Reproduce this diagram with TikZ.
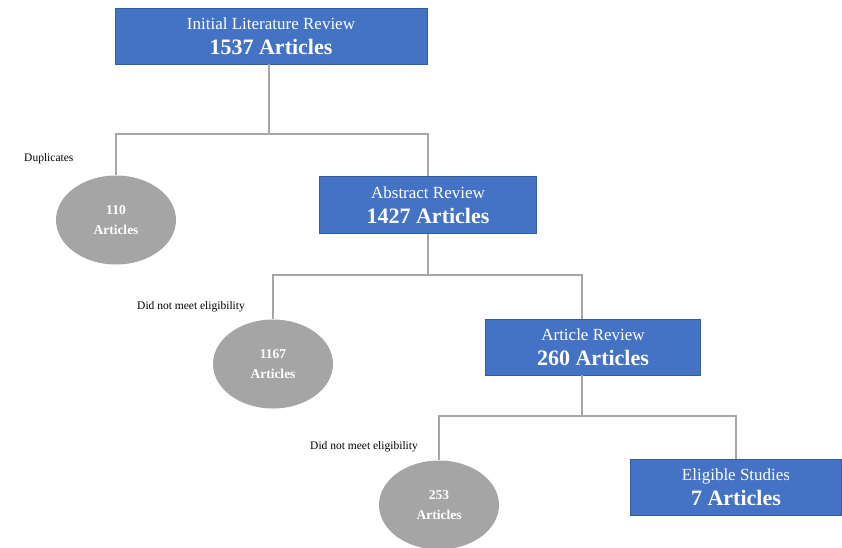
\documentclass[tikz,border=0pt]{standalone}
\usepackage{fontspec}
\setmainfont{Liberation Serif}
\usetikzlibrary{shapes.geometric}
\definecolor{boxblue}{HTML}{4472C4}
\definecolor{ovalgray}{HTML}{A5A5A5}
\definecolor{linegray}{HTML}{A6A6A6}

\begin{document}
\begin{tikzpicture}[x=1pt,y=-1pt,
    stagebox/.style={rectangle, fill=boxblue, draw=boxblue!80!black, line width=0.4pt, text=white, align=center, inner sep=0pt, font=\fontsize{17}{25}\selectfont},
    dropoval/.style={ellipse, fill=ovalgray, text=white, align=center, inner sep=0pt, minimum width=120pt, minimum height=89pt, font=\bfseries\fontsize{13.5}{20}\selectfont},
    conn/.style={draw=linegray, line width=1.2pt},
    note/.style={font=\fontsize{11.5}{13}\selectfont, anchor=base west, inner sep=0pt}]
    \useasboundingbox (0,0) rectangle (842,547);
    % review stages
    \node[stagebox, minimum width=312pt, minimum height=56pt] (init) at (271,36) {Initial Literature Review\\{\bfseries\fontsize{22}{25}\selectfont 1537 Articles}};
    \node[stagebox, minimum width=217pt, minimum height=57pt] (abs) at (428,205) {Abstract Review\\{\bfseries\fontsize{22}{25}\selectfont 1427 Articles}};
    \node[stagebox, minimum width=215pt, minimum height=56pt] (art) at (593,347) {Article Review\\{\bfseries\fontsize{22}{25}\selectfont 260 Articles}};
    \node[stagebox, minimum width=211pt, minimum height=56pt] (elig) at (736,487) {Eligible Studies\\{\bfseries\fontsize{22}{25}\selectfont 7 Articles}};
    % excluded articles
    \node[dropoval] (dup) at (116,220) {110\\Articles};
    \node[dropoval] (inel) at (273,364) {1167\\Articles};
    \node[dropoval] (excl) at (439,505) {253\\Articles};
    \node[note] (duplbl) at (24,161) {Duplicates};
    \node[note] (inellbl) at (137,309) {Did not meet eligibility};
    \node[note] (excllbl) at (310,449) {Did not meet eligibility};
    % connectors
    \coordinate (j1) at (269,134);
    \coordinate (j2) at (428,275);
    \coordinate (j3) at (582,416);
    \draw[conn] (init.south -| j1) -- (j1);
    \draw[conn] (dup.north) |- (j1) -| (abs.north);
    \draw[conn] (abs.south) -- (j2);
    \draw[conn] (inel.north) |- (j2) -| (art.north -| j3);
    \draw[conn] (art.south -| j3) -- (j3);
    \draw[conn] (excl.north) |- (j3) -| (elig.north);
\end{tikzpicture}
\end{document}
